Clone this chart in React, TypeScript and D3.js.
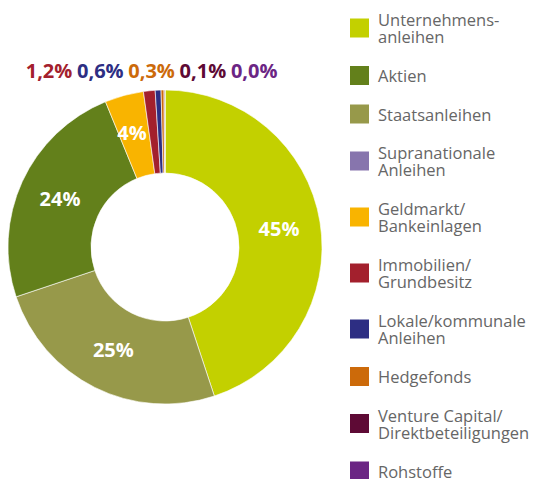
import * as d3 from 'd3';

// legend entries (top to bottom)
const legendNames = [
  ['Unternehmens-', 'anleihen'],
  ['Aktien'],
  ['Staatsanleihen'],
  ['Supranationale', 'Anleihen'],
  ['Geldmarkt/', 'Bankeinlagen'],
  ['Immobilien/', 'Grundbesitz'],
  ['Lokale/kommunale', 'Anleihen'],
  ['Hedgefonds'],
  ['Venture Capital/', 'Direktbeteiligungen'],
  ['Rohstoffe'],
];
const legendColors = [
  '#c3d000', '#63801b', '#97994a', '#8775ad', '#f9b400',
  '#a3202d', '#2d2e83', '#cc6a0a', '#5e0a35', '#6b2584',
];

// slices clockwise from 12 o'clock
const sliceKeys = [0, 2, 1, 4, 5, 6, 7, 8, 9];
const sliceValues = [45, 25, 24, 4, 1.2, 0.6, 0.3, 0.1, 0.0];
const sliceLabels = ['45%', '25%', '24%', '4%', '1,2%', '0,6%', '0,3%', '0,1%', '0,0%'];

const W = 537;
const H = 479;
const cx = 165;
const cy = 247;
const outerR = 157;
const innerR = 74;

export default function App() {
  const slices = sliceValues.map((v, i) => ({ key: sliceKeys[i], value: v, label: sliceLabels[i] }));
  const pie = d3.pie<any>().sort(null).value((d) => d.value).startAngle(0).endAngle(2 * Math.PI);
  const arcs = pie(slices);
  const arc = d3.arc<any>().innerRadius(innerR).outerRadius(outerR);

  // legend layout
  let y = 14;
  const legendRows = legendNames.map((lines, i) => {
    const top = y;
    y += lines.length > 1 ? 56 : 38.5;
    return { lines, color: legendColors[i], top };
  });

  const small = arcs.filter((a) => a.data.value < 2);
  const bold = { fontFamily: '"Open Sans", sans-serif', fontWeight: 700, fontSize: 20 };

  return (
    <svg width={W} height={H} style={{ position: 'absolute', left: 0, top: 0, background: '#fff' }}>
      <g transform={`translate(${cx},${cy})`}>
        {arcs.map((a, i) => (
          <path key={i} d={arc(a) || ''} fill={legendColors[a.data.key]} stroke="#fff" strokeWidth={0.6} />
        ))}
        {arcs
          .filter((a) => a.data.value >= 2)
          .map((a, i) => {
            const [x, yy] = arc.centroid(a);
            const nudge = a.data.value < 10 ? -3 : 0;
            return (
              <text key={i} x={x + nudge} y={yy + nudge} dy="0.36em" textAnchor="middle" fill="#fff" style={bold}>
                {a.data.label}
              </text>
            );
          })}
      </g>
      {small.map((a, i) => (
        <text key={i} x={49 + i * 51.3} y={78} textAnchor="middle" fill={legendColors[a.data.key]} style={bold}>
          {a.data.label}
        </text>
      ))}
      <g style={{ fontFamily: '"Open Sans", sans-serif', fontSize: 16.5 }} fill="#666">
        {legendRows.map((r, i) => {
          const blockH = (r.lines.length - 1) * 17 + 12;
          return (
            <g key={i}>
              <rect x={350} y={r.top + blockH / 2 - 10} width={19} height={19} fill={r.color} />
              <text x={378} y={r.top + 12}>
                {r.lines.map((l, j) => (
                  <tspan key={j} x={378} dy={j === 0 ? 0 : 17}>
                    {l}
                  </tspan>
                ))}
              </text>
            </g>
          );
        })}
      </g>
    </svg>
  );
}
